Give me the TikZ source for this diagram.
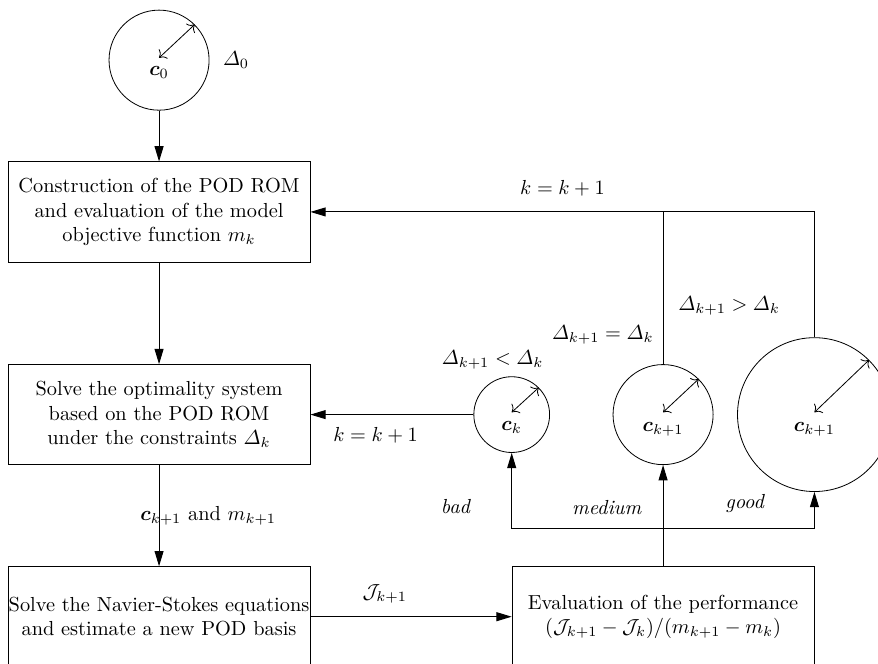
\documentclass[tikz,border=0pt]{standalone}
\usepackage{amsmath}
\usepackage{bm}
\usetikzlibrary{
  arrows.meta,
  positioning
}
\tikzset{
  every node/.style={align=center},
  box/.style={draw, minimum width=52.2mm, minimum height=17.3mm, inner xsep=0pt},
  disc/.style={draw, circle, inner sep=0pt},
  flow/.style={-{Triangle[length=7.5pt, width=4.4pt]}, line width=0.5pt},
  spoke/.style={{To[length=3pt]}-{To[length=3pt]}, thin},
}

\begin{document}
\begin{tikzpicture}
  \node[disc, minimum size=17.3mm] (c0) {};
  \useasboundingbox ([xshift=-27.5mm, yshift=10.4mm]c0.center)
    rectangle ([xshift=124.3mm, yshift=-104.4mm]c0.center);

  \node (rom) [box, below = 8.8mm of c0] {
    Construction of the POD ROM \\
    and evaluation of the model \\
    objective function $m_k$
  };
  \node (opt) [box, below = 17.6mm of rom] {
    Solve the optimality system \\
    based on the POD ROM \\
    under the constraints $\varDelta_k$
  };
  \node (ns) [box, below = 17.5mm of opt] {
    Solve the Navier-Stokes equations \\
    and estimate a new POD basis
  };
  \node (perf) [box, right = 34.8mm of ns] {
    Evaluation of the performance \\
    $(\mathcal{J}_{k+1}-\mathcal{J}_k)/(m_{k+1}-m_k)$
  };

  % trust regions
  \node[disc, minimum size=13.1mm] (ck) at (perf.west |- opt) {};
  \node[disc, minimum size=17.3mm] (med) at (perf |- opt) {};
  \node[disc, minimum size=26.6mm] (big) at (perf.east |- opt) {};
  \foreach \c in {c0, ck, med, big}
    \draw[spoke] ([yshift=0.4mm]\c.center) -- (\c.45);
  \node at ([yshift=-2.2mm]c0.center) {$\bm{c}_0$};
  \node at ([yshift=-2.2mm]ck.center) {$\bm{c}_k$};
  \node at ([yshift=-2.6mm]med.center) {$\bm{c}_{k+1}$};
  \node at ([yshift=-2.6mm]big.center) {$\bm{c}_{k+1}$};
  \node [right = 1.1mm of c0] {$\varDelta_0$};
  \node [above = 0pt of ck, xshift=-3.3mm] {$\varDelta_{k+1}<\varDelta_k$};
  \node [anchor=east] at ([xshift=-0.4mm, yshift=5mm]med.north) {$\varDelta_{k+1}=\varDelta_k$};
  \node [anchor=west] at ([xshift=1.4mm, yshift=10mm]med.north) {$\varDelta_{k+1}>\varDelta_k$};

  % main loop
  \draw[flow] (c0) -- (rom);
  \draw[flow] (rom) -- (opt);
  \draw[flow] (opt) -- (ns) node[midway, xshift=8.5mm] {$\bm{c}_{k+1}$ and $m_{k+1}$};
  \draw[flow] (ns) -- (perf) node[pos=0.37, above=1mm] {$\mathcal{J}_{k+1}$};

  % decision
  \coordinate[above = 6.6mm of perf] (split);
  \draw[line width=0.5pt] (perf) -- (split);
  \draw[flow] (split) -| (ck);
  \draw[flow] (split) -- (med);
  \draw[flow] (split) -| (big);
  \node at ([shift={(-35.8mm,3.8mm)}]split) {\textit{bad}};
  \node at ([shift={(-9.7mm,3.6mm)}]split) {\textit{medium}};
  \node at ([shift={(14.2mm,4.2mm)}]split) {\textit{good}};

  \draw[flow] (ck) -- (opt) node[pos=0.6, below=1mm] {$k=k+1$};
  \draw[line width=0.5pt] (med) -- (med |- rom.east);
  \draw[flow] (big) |- (rom) node[pos=0.75, above=1.5mm] {$k=k+1$};
\end{tikzpicture}
\end{document}
